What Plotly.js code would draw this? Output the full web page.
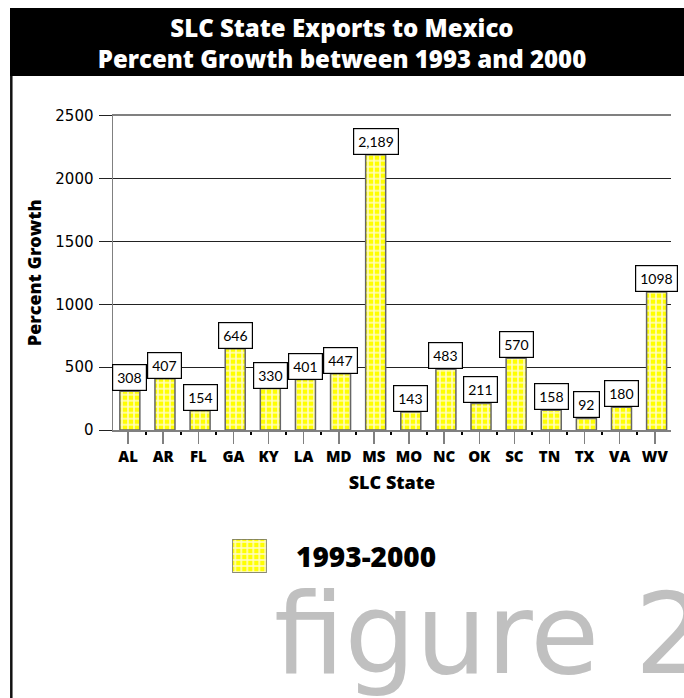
<!DOCTYPE html>
<html>
<head>
<meta charset="utf-8">
<script src="https://cdn.plot.ly/plotly-3.0.1.min.js"></script>
<style>
  html, body { margin: 0; padding: 0; background: #ffffff; }
  #chart { width: 684px; height: 698px; }
</style>
</head>
<body>
<div id="chart"></div>
<script>
// SLC states and percent growth of exports to Mexico, 1993 to 2000
const states = ['AL', 'AR', 'FL', 'GA', 'KY', 'LA', 'MD', 'MS', 'MO', 'NC', 'OK', 'SC', 'TN', 'TX', 'VA', 'WV'];
const growth = [308, 407, 154, 646, 330, 401, 447, 2189, 143, 483, 211, 570, 158, 92, 180, 1098];
const valueLabels = ['308', '407', '154', '646', '330', '401', '447', '2,189', '143', '483', '211', '570', '158', '92', '180', '1098'];
const seriesName = '1993-2000';
const yTicks = [0, 500, 1000, 1500, 2000, 2500];

const W = 684, H = 698;
const px = v => v / W;            // horizontal pixel -> paper
const py = v => 1 - v / H;        // vertical pixel (from top) -> paper

const BOLD = '"Open Sans", sans-serif';
const HEAVY = 800;
const PLAIN = 'Lato, sans-serif';

const positions = states.map((s, i) => i);
const barFill = {
  color: '#ffff00',
  pattern: { shape: '+', fgcolor: '#fffcc8', bgcolor: '#ffff00', size: 6, solidity: 0.45 },
  line: { color: '#666666', width: 1.5 }
};

const bars = {
  type: 'bar',
  name: seriesName,
  x: positions,
  y: growth,
  width: 0.57,
  offset: -0.235,
  marker: barFill,
  hoverinfo: 'skip',
  showlegend: false
};

// key swatch for the series, drawn on its own small axes
const swatch = {
  type: 'bar',
  name: seriesName,
  x: [0],
  y: [1],
  width: 1,
  xaxis: 'x2',
  yaxis: 'y2',
  marker: barFill,
  hoverinfo: 'skip',
  showlegend: false
};

const labelNotes = positions.map((p, i) => ({
  x: p, y: growth[i], xref: 'x', yref: 'y',
  text: valueLabels[i],
  showarrow: false,
  xanchor: 'center', yanchor: 'bottom',
  xshift: 1.7,
  font: { family: PLAIN, size: 14, color: '#000000' },
  bgcolor: '#ffffff', bordercolor: '#000000', borderwidth: 1.2, borderpad: 4
}));

const layout = {
  width: W, height: H,
  margin: { l: 0, r: 0, t: 0, b: 0 },
  paper_bgcolor: '#ffffff',
  plot_bgcolor: 'rgba(0,0,0,0)',
  showlegend: false,
  title: {
    text: 'SLC State Exports to Mexico<br>Percent Growth between 1993 and 2000',
    font: { family: BOLD, size: 24, color: '#ffffff', weight: HEAVY },
    x: 0.5, xanchor: 'center', xref: 'paper',
    y: py(36.5), yanchor: 'middle', yref: 'paper'
  },
  xaxis: {
    domain: [px(113), px(671)],
    range: [-0.43, 15.46],
    tickmode: 'array',
    tickvals: positions,
    ticktext: states,
    ticks: 'outside', ticklen: 12, tickwidth: 1.5, tickcolor: '#808080',
    minor: { tickmode: 'linear', tick0: 0.5, dtick: 1, ticks: 'outside', ticklen: 3, tickwidth: 2, tickcolor: '#000000', showgrid: false },
    showgrid: false, zeroline: false,
    showline: true, linecolor: '#808080', linewidth: 1.5, mirror: true,
    tickfont: { family: BOLD, size: 15, color: '#000000', weight: HEAVY },
    title: { text: 'SLC State', font: { family: BOLD, size: 18, color: '#000000', weight: HEAVY }, standoff: 12 },
    fixedrange: true
  },
  yaxis: {
    domain: [py(430), py(115.7)],
    range: [0, 2500],
    tickmode: 'array',
    tickvals: yTicks,
    ticks: 'outside', ticklen: 13, tickwidth: 1, tickcolor: '#222222',
    ticklabelstandoff: 2,
    showgrid: true, gridcolor: '#222222', gridwidth: 1,
    zeroline: false,
    showline: true, linecolor: '#808080', linewidth: 1.5,
    tickfont: { family: '"DejaVu Sans", sans-serif', size: 15, color: '#000000' },
    title: { text: 'Percent Growth', font: { family: BOLD, size: 18, color: '#000000', weight: HEAVY }, standoff: 9 },
    fixedrange: true
  },
  xaxis2: {
    domain: [px(232.3), px(266.7)], anchor: 'y2', range: [-0.5, 0.5],
    visible: false, fixedrange: true
  },
  yaxis2: {
    domain: [py(573), py(539)], anchor: 'x2', range: [0, 1],
    visible: false, fixedrange: true
  },
  shapes: [
    // title band
    { type: 'rect', xref: 'paper', yref: 'paper', x0: px(10), x1: 1, y0: py(76), y1: py(8),
      fillcolor: '#000000', line: { width: 0 }, layer: 'below' },
    // left frame edge
    { type: 'line', xref: 'paper', yref: 'paper', x0: px(11.3), x1: px(11.3), y0: 0, y1: py(76),
      line: { color: '#111111', width: 2.5 }, layer: 'below' }
  ],
  annotations: labelNotes.concat([
    { xref: 'paper', yref: 'paper', x: px(294), y: py(556), xanchor: 'left', yanchor: 'middle',
      text: seriesName, showarrow: false,
      font: { family: BOLD, size: 28, color: '#000000', weight: HEAVY } },
    { xref: 'paper', yref: 'paper', x: px(272), y: py(634), xanchor: 'left', yanchor: 'middle',
      text: 'figure 2', showarrow: false,
      font: { family: '"DejaVu Sans", sans-serif', size: 112, color: '#c0c0c0' } }
  ])
};

Plotly.newPlot('chart', [bars, swatch], layout, { displayModeBar: false, staticPlot: true });
</script>
</body>
</html>
